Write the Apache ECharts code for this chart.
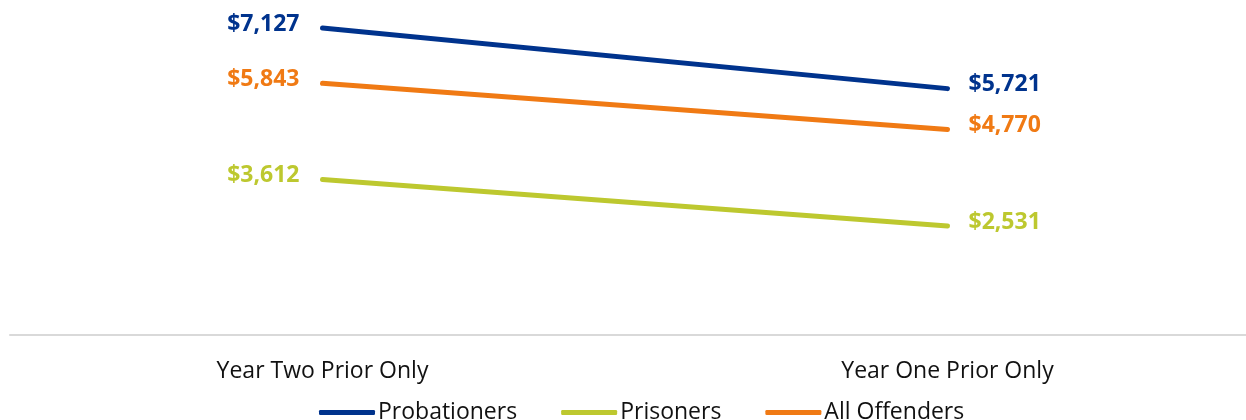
<!DOCTYPE html>
<html><head><meta charset="utf-8">
<script src="https://cdn.jsdelivr.net/npm/echarts@6/dist/echarts.min.js"></script>
<style>html,body{margin:0;padding:0;background:#fff}#c{width:1246px;height:420px}</style>
</head><body><div id="c"></div>
<script>
const categories = ['Year Two Prior Only', 'Year One Prior Only'];
const probationers = [7127, 5721];
const prisoners = [3612, 2531];
const allOffenders = [5843, 4770];
const seriesNames = ['Probationers', 'Prisoners', 'All Offenders'];
const colors = ['#00338D', '#BDC82F', '#F07A14'];

const chart = echarts.init(document.getElementById('c'), null, {renderer: 'canvas'});
const fmt = v => '$' + v.toLocaleString('en-US');
function mk(name, data, color) {
  return {
    name, type: 'line', color,
    symbol: 'circle', symbolSize: 0, showSymbol: true,
    itemStyle: {color: color},
    lineStyle: {width: 5, color, cap: 'round'},
    emphasis: {disabled: true},
    silent: true,
    data: data.map((v, i) => ({
      value: v,
      label: {
        show: true,
        position: i === 0 ? 'left' : 'right',
        distance: i === 0 ? 23 : 21,
        offset: [0, -4],
        formatter: p => fmt(p.value),
        color, fontWeight: 'bold', fontSize: 23, fontFamily: 'Open Sans'
      }
    }))
  };
}
chart.setOption({
  animation: false,
  grid: {left: 10, width: 1250, top: 12, bottom: 85, containLabel: false, outerBoundsMode: 'none'},
  legend: {
    bottom: -9, left: 314,
    data: seriesNames,
    icon: 'roundRect', itemWidth: 56, itemHeight: 5, itemGap: 44,
    textStyle: {fontSize: 23, color: '#111', fontFamily: 'Open Sans', padding: [0,0,0,-2]}
  },
  xAxis: {
    type: 'category', data: categories, boundaryGap: true,
    axisLine: {lineStyle: {color: '#D9D9D9', width: 2}},
    axisTick: {show: false},
    axisLabel: {fontSize: 23, color: '#111', fontFamily: 'Open Sans', margin: 25}
  },
  yAxis: {type: 'value', min: 0, max: 7500, show: false, splitLine: {show: false}},
  series: [
    mk(seriesNames[0], probationers, colors[0]),
    mk(seriesNames[1], prisoners, colors[1]),
    mk(seriesNames[2], allOffenders, colors[2])
  ]
});
</script></body></html>
